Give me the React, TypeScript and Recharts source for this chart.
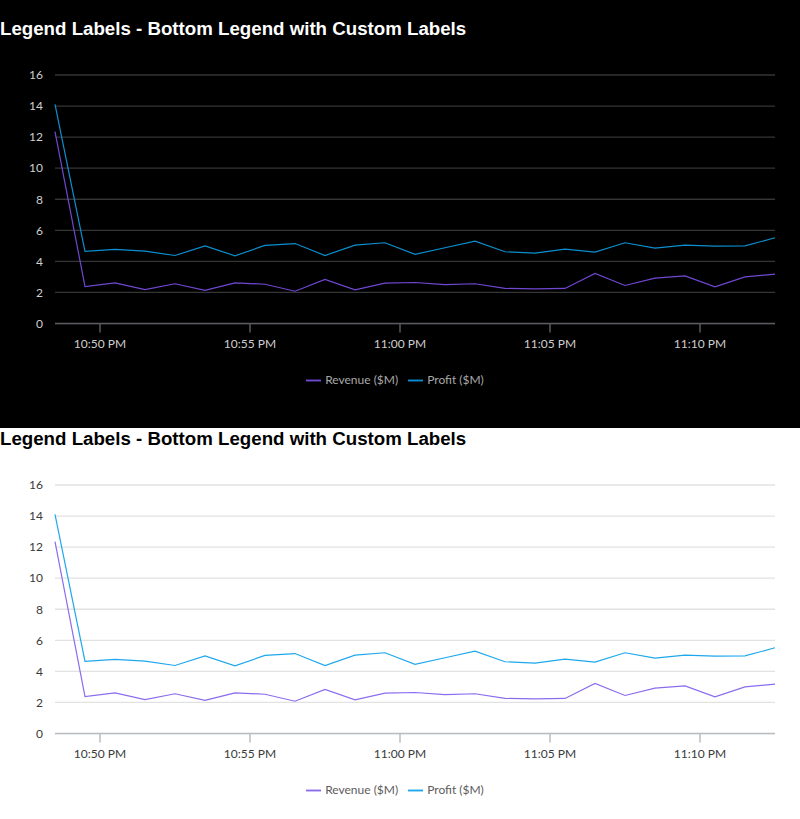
import { LineChart, Line, XAxis, YAxis, CartesianGrid, Legend } from 'recharts';

const times = [
  '22:48:30', '22:49:30', '22:50:30', '22:51:30', '22:52:30', '22:53:30', '22:54:30',
  '22:55:30', '22:56:30', '22:57:30', '22:58:30', '22:59:30', '23:00:30', '23:01:30',
  '23:02:30', '23:03:30', '23:04:30', '23:05:30', '23:06:30', '23:07:30', '23:08:30',
  '23:09:30', '23:10:30', '23:11:30', '23:12:30',
];

const revenue = [
  12.35, 2.38, 2.62, 2.19, 2.56, 2.13, 2.62, 2.53, 2.08, 2.84, 2.17, 2.6, 2.64,
  2.51, 2.56, 2.26, 2.23, 2.26, 3.22, 2.45, 2.92, 3.07, 2.36, 3.0, 3.18,
];

const profit = [
  14.11, 4.64, 4.77, 4.66, 4.38, 5.0, 4.36, 5.03, 5.15, 4.38, 5.05, 5.2, 4.45,
  4.88, 5.3, 4.62, 4.53, 4.79, 4.6, 5.2, 4.85, 5.05, 4.98, 5.0, 5.52,
];

const seriesOrder = ['revenue', 'profit'];

const tickTimes = ['22:50', '22:55', '23:00', '23:05', '23:10'];
const tickLabels = ['10:50 PM', '10:55 PM', '11:00 PM', '11:05 PM', '11:10 PM'];
const yTicks = [0, 2, 4, 6, 8, 10, 12, 14, 16];

const toMinutes = (s: string) => {
  const [h, m, sec] = s.split(':').map(Number);
  return h * 60 + m + (sec || 0) / 60;
};

const xTicks = tickTimes.map(toMinutes);

const data = times.map((t, i) => ({
  t: toMinutes(t),
  revenue: revenue[i],
  profit: profit[i],
}));

const themes = {
  dark: {
    bg: '#000000',
    title: '#ffffff',
    grid: '#353535',
    axis: '#5a5a5f',
    tick: '#cfcfcf',
    legend: '#a8a8a8',
    revenue: '#7048d2',
    profit: '#0b8fd0',
  },
  light: {
    bg: '#ffffff',
    title: '#000000',
    grid: '#e2e2e2',
    axis: '#b8bcc0',
    tick: '#3a3a3a',
    legend: '#5c5c5c',
    revenue: '#8b6cee',
    profit: '#1ea8ec',
  },
};

function ChartBlock({ theme, padTop }: { theme: keyof typeof themes; padTop: number }) {
  const c = themes[theme];
  const fmt = (v: number) => {
    const i = xTicks.indexOf(v);
    return i >= 0 ? tickLabels[i] : '';
  };
  return (
    <div style={{ background: c.bg, paddingTop: padTop, height: 410 }}>
      <div
        style={{
          fontFamily: '"Liberation Sans", Arial, sans-serif',
          fontWeight: 'bold',
          fontSize: 18.7,
          lineHeight: '22px',
          height: 22,
          color: c.title,
        }}
      >
        Legend Labels - Bottom Legend with Custom Labels
      </div>
      <LineChart
        width={800}
        height={388}
        data={data}
        margin={{ top: 35, right: 25, bottom: 40, left: 0 }}
        style={{ fontFamily: 'Lato, sans-serif' }}
      >
        <CartesianGrid vertical={false} stroke={c.grid} strokeWidth={1.3} />
        <XAxis
          dataKey="t"
          type="number"
          domain={[toMinutes(times[0]), toMinutes(times[times.length - 1])]}
          ticks={xTicks}
          tickFormatter={fmt}
          stroke={c.axis}
          strokeWidth={1.5}
          tick={{ fill: c.tick, fontSize: 12 }}
          tickSize={9}
          tickMargin={7}
          height={30}
        />
        <YAxis
          domain={[0, 16]}
          ticks={yTicks}
          width={55}
          axisLine={false}
          tickLine={false}
          tickMargin={6}
          tick={{ fill: c.tick, fontSize: 12 }}
        />
        <Legend
          verticalAlign="bottom"
          iconType="plainline"
          iconSize={15}
          itemSorter={(item: any) => seriesOrder.indexOf(item.dataKey)}
          wrapperStyle={{ paddingTop: 18, fontSize: 12, left: 0, width: 800 }}
          formatter={(value) => <span style={{ color: c.legend }}>{value}</span>}
        />
        <Line
          type="linear"
          dataKey="revenue"
          name="Revenue ($M)"
          stroke={c.revenue}
          strokeWidth={1.2}
          dot={false}
          isAnimationActive={false}
        />
        <Line
          type="linear"
          dataKey="profit"
          name="Profit ($M)"
          stroke={c.profit}
          strokeWidth={1.2}
          dot={false}
          isAnimationActive={false}
        />
      </LineChart>
    </div>
  );
}

export default function App() {
  return (
    <div>
      <style>{'body{margin:0}'}</style>
      <ChartBlock theme="dark" padTop={18} />
      <ChartBlock theme="light" padTop={0} />
    </div>
  );
}
